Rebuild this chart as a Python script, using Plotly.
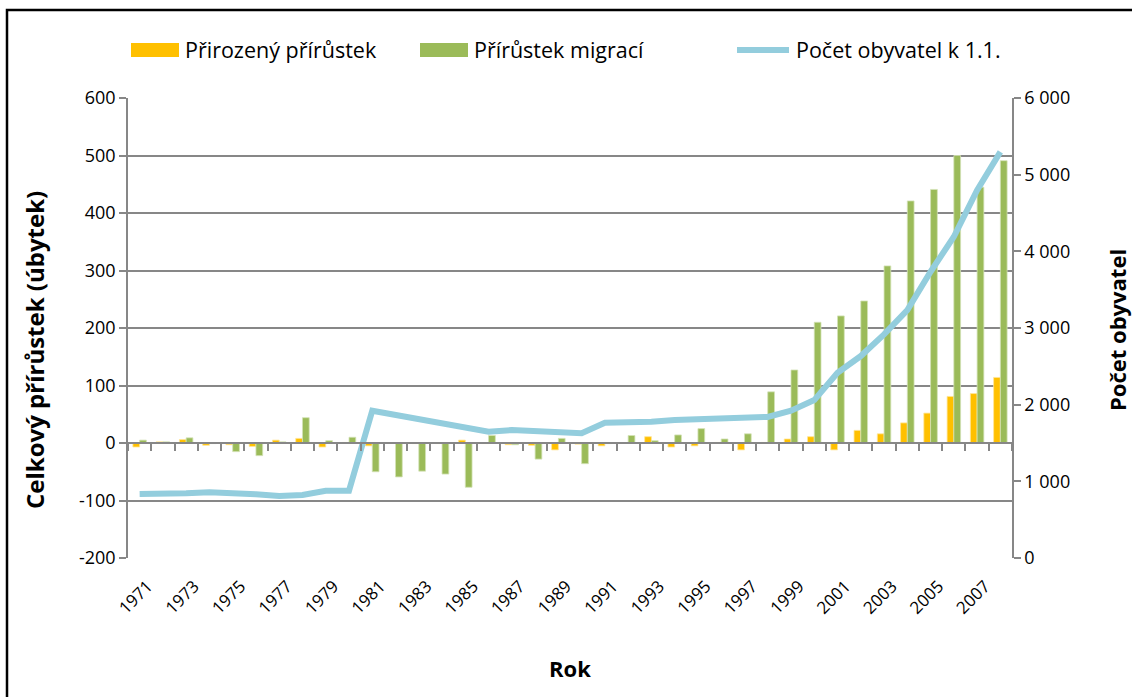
import plotly.graph_objects as go

# Years on the category axis
years = list(range(1971, 2009))

# Natural increase (births minus deaths)
natural = [-7, 2, 6, -4, -3, -6, 5, 8, -7, 1,
           -5, 0, -1, -1, 5, -1, -3, -4, -12, -2,
           -5, 0, 11, -7, -5, 1, -12, 1, 7, 11,
           -12, 22, 16, 35, 52, 81, 86, 114]

# Migration balance
migration = [5, 2, 9, -1, -15, -22, 2, 44, 4, 10,
             -50, -59, -49, -54, -77, 13, -3, -28, 8, -36,
             -1, 13, 4, 14, 25, 7, 16, 89, 127, 210,
             221, 247, 308, 421, 441, 500, 445, 491]

# Population as of 1 January
population = [835, 835, 843, 856, 852, 830, 808, 821, 878, 878,
              1921, 1868, 1819, 1762, 1704, 1647, 1669, 1660, 1634, 1626,
              1765, 1765, 1778, 1800, 1808, 1830, 1838, 1840, 1921, 2060,
              2417, 2634, 2917, 3234, 3734, 4190, 4799, 5298]

left_ticks = [-200, -100, 0, 100, 200, 300, 400, 500, 600]
left_ticktext = ["-200", "-100", "0", "100", "200", "300", "400", "500", "600"]
right_ticks = [0, 1000, 2000, 3000, 4000, 5000, 6000]
right_ticktext = ["0", "1 000", "2 000", "3 000", "4 000", "5 000", "6 000"]
label_years = years[::2]

series_names = ["Přirozený přírůstek", "Přírůstek migrací", "Počet obyvatel k 1.1."]
left_title = "Celkový přírůstek (úbytek)"
right_title = "Počet obyvatel"
x_title = "Rok"

YELLOW = "#FFC000"
GREEN = "#9BBB59"
BLUE = "#93CDDD"
GRID = "#878787"
FONT = "Open Sans, sans-serif"

W, H = 1132, 697
L, R, T, B = 128, 1012, 98, 558   # plot area in pixels


def px(x):
    return (x - L) / (R - L)


def py(y):
    return (B - y) / (B - T)


fig = go.Figure()

fig.add_trace(go.Bar(
    x=years, y=natural, name=series_names[0],
    marker=dict(color=YELLOW, line=dict(color="#FFE699", width=0.8)),
    showlegend=False,
))
fig.add_trace(go.Bar(
    x=years, y=migration, name=series_names[1],
    marker=dict(color=GREEN, line=dict(color="#D3E2B6", width=0.8)),
    showlegend=False,
))
fig.add_trace(go.Scatter(
    x=years, y=population, name=series_names[2], yaxis="y2",
    mode="lines", line=dict(color=BLUE, width=6),
    showlegend=False,
))

# Category axis drawn through zero, with marks at category boundaries
boundaries = [y - 0.5 for y in years] + [years[-1] + 0.5]
fig.add_trace(go.Scatter(x=[years[0] - 0.5, years[-1] + 0.5], y=[0, 0],
                         xaxis="x2", mode="lines",
                         line=dict(color="rgba(0,0,0,0)"),
                         showlegend=False, hoverinfo="skip"))

xrange = [years[0] - 0.5, years[-1] + 0.5]

fig.update_layout(
    width=W, height=H,
    margin=dict(l=L, r=W - R, t=T, b=H - B, pad=0),
    paper_bgcolor="white", plot_bgcolor="white",
    font=dict(family=FONT, size=17, color="#000000"),
    barmode="group", bargap=0.42, bargroupgap=0.0,
    xaxis=dict(
        range=xrange, tickvals=label_years,
        ticktext=[str(v) for v in label_years],
        tickangle=-45, ticks="", showgrid=False, zeroline=False,
        showline=False, tickfont=dict(size=17),
        ticklabelstandoff=14, ticklabelshift=8,
    ),
    xaxis2=dict(
        range=xrange, overlaying="x", anchor="free",
        position=200 / 800,
        tickvals=boundaries, ticks="outside", ticklen=7,
        tickcolor=GRID, tickwidth=1.5, showticklabels=False,
        showline=True, linecolor=GRID, linewidth=2,
        showgrid=False, zeroline=False,
    ),
    yaxis=dict(
        range=[-200, 600], tickvals=left_ticks, ticktext=left_ticktext,
        showgrid=True, gridcolor=GRID, gridwidth=1.5, zeroline=False,
        showline=True, linecolor=GRID, linewidth=1.5,
        ticks="outside", ticklen=7, tickcolor=GRID, tickwidth=1.5,
        tickfont=dict(size=18),
    ),
    yaxis2=dict(
        range=[0, 6000], tickvals=right_ticks, ticktext=right_ticktext,
        overlaying="y", side="right", showgrid=False, zeroline=False,
        showline=True, linecolor=GRID, linewidth=1.5,
        ticks="outside", ticklen=7, tickcolor=GRID, tickwidth=1.5,
        tickfont=dict(size=18),
    ),
)

shapes = []
annotations = []

# Outer frame
shapes.append(dict(type="rect", xref="paper", yref="paper",
                   x0=px(7), x1=px(1140), y0=py(10), y1=py(710),
                   line=dict(color="#000000", width=2.5), layer="above"))

# Legend
legend_y = 50
shapes.append(dict(type="rect", xref="paper", yref="paper",
                   x0=px(131), x1=px(179), y0=py(legend_y + 7), y1=py(legend_y - 7),
                   fillcolor=YELLOW, line=dict(width=0)))
shapes.append(dict(type="rect", xref="paper", yref="paper",
                   x0=px(420), x1=px(468), y0=py(legend_y + 7), y1=py(legend_y - 7),
                   fillcolor=GREEN, line=dict(width=0)))
shapes.append(dict(type="line", xref="paper", yref="paper",
                   x0=px(737), x1=px(789), y0=py(legend_y), y1=py(legend_y),
                   line=dict(color=BLUE, width=6)))
for name, x0 in zip(series_names, [183, 472, 794]):
    annotations.append(dict(text=name, xref="paper", yref="paper",
                            x=px(x0), y=py(legend_y), xanchor="left",
                            yanchor="middle", showarrow=False,
                            font=dict(size=21.5)))

# Axis titles
annotations.append(dict(text="<b>" + left_title + "</b>", xref="paper", yref="paper",
                        x=px(34), y=py(350), textangle=-90, showarrow=False,
                        xanchor="center", yanchor="middle", font=dict(size=24)))
annotations.append(dict(text="<b>" + right_title + "</b>", xref="paper", yref="paper",
                        x=px(1117), y=py(330), textangle=-90, showarrow=False,
                        xanchor="center", yanchor="middle", font=dict(size=22)))
annotations.append(dict(text="<b>" + x_title + "</b>", xref="paper", yref="paper",
                        x=px(570), y=py(668), showarrow=False,
                        xanchor="center", yanchor="middle", font=dict(size=22)))

fig.update_layout(shapes=shapes, annotations=annotations)

fig.write_html("out.html")
